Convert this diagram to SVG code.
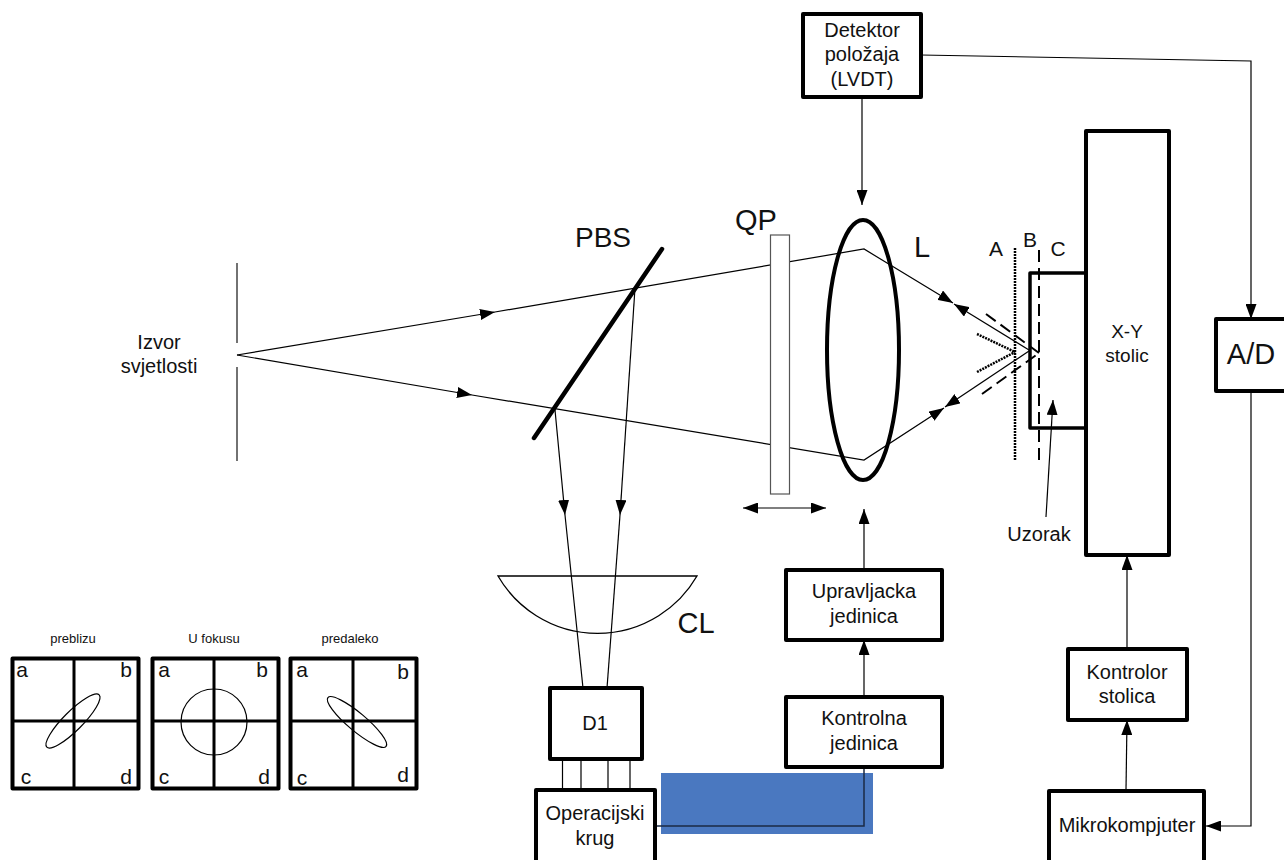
<svg xmlns="http://www.w3.org/2000/svg" width="1284" height="860" viewBox="0 0 1284 860">
<style>
text{font-family:"Liberation Sans",Arial,sans-serif;fill:#111;text-anchor:middle}
.box{fill:#fff;stroke:#000;stroke-width:4;stroke-linejoin:round}
.t18{font-size:20px}
.w{fill:none;stroke:#000;stroke-width:1.2}
.thin{fill:none;stroke:#000;stroke-width:1.3}
.q{font-size:21px}
.big{font-size:29px}
.s{font-size:13px}
.cr{fill:none;stroke:#000;stroke-width:3}
.dash{fill:none;stroke:#000;stroke-width:2;stroke-dasharray:12 6}
.dot{fill:none;stroke:#000;stroke-width:2.500;stroke-dasharray:2 1}
</style>
<defs>
<marker id="a" markerUnits="userSpaceOnUse" viewBox="0 0 15 11" markerWidth="15" markerHeight="11" refX="15" refY="5.500" orient="auto"><path d="M0,0L15,5.500L0,11z" fill="#000"/></marker>
<marker id="b" markerUnits="userSpaceOnUse" viewBox="0 0 15 11" markerWidth="15" markerHeight="11" refX="0" refY="5.500" orient="auto"><path d="M15,0L0,5.500L15,11z" fill="#000"/></marker>
</defs>
<rect id="blue-block" x="661" y="773" width="212" height="61" fill="#4a78c0"/>
<g id="connectors">
<path class="w" d="M237,355L495,312" marker-end="url(#a)"/>
<path class="w" d="M495,312L864,249L953,303" marker-end="url(#a)"/>
<path class="w" d="M1029,350L954,304" marker-end="url(#a)"/>
<path class="w" d="M237,355L472,395" marker-end="url(#a)"/>
<path class="w" d="M472,395L864,460L944,408" marker-end="url(#a)"/>
<path class="w" d="M1029,351L945,407" marker-end="url(#a)"/>
<path class="w" d="M635,288L620,515" marker-end="url(#a)"/>
<path class="w" d="M620,515L607,688"/>
<path class="w" d="M555,410L565,515" marker-end="url(#a)"/>
<path class="w" d="M565,515L583,688"/>
<path class="w" d="M921,55L1251,61L1251,319" marker-end="url(#a)"/>
<path class="w" d="M862,98L862,205" marker-end="url(#a)"/>
<path class="w" d="M864,569L864,509" marker-end="url(#a)"/>
<path class="w" d="M864,696L864,640" marker-end="url(#a)"/>
<path class="w" d="M1127,649L1127,555" marker-end="url(#a)"/>
<path class="w" d="M1126,790L1127,720" marker-end="url(#a)"/>
<path class="w" d="M1251,391L1251,826L1206,826" marker-end="url(#a)"/>
<path class="w" d="M1046,517L1053,400" marker-end="url(#a)"/>
<path class="w" d="M743,508H826" marker-start="url(#b)" marker-end="url(#a)"/>
<path class="w" d="M562.500,759V790M581,759V790M608,759V790M630,759V790"/>
<path d="M655,826H864V767" fill="none" stroke="#1b2a44" stroke-width="1.500"/>
<path class="dash" d="M986,314L1039,353"/>
<path class="dash" d="M982,394L1039,353"/>
<path class="dot" d="M977,334L1015,352"/>
<path class="dot" d="M977,372L1015,352"/>
<path class="dot" d="M1015,248V461"/>
<path class="dash" d="M1039,250V461"/>
</g>
<g id="slit"><path d="M237,263V343M237,367V461" fill="none" stroke="#444" stroke-width="1.500"/></g>
<g id="source-label"><text class="t18" x="159" y="349">Izvor</text><text class="t18" x="159" y="373">svjetlosti</text></g>
<g id="pbs"><path d="M662,249L534,438" stroke="#000" stroke-width="4.500" stroke-linecap="round"/><text class="big" x="603" y="247" style="font-size:28px">PBS</text></g>
<g id="qp"><rect x="770.500" y="235" width="19" height="259" fill="#fff" stroke="#555" stroke-width="1.200"/><text class="big" x="756" y="230">QP</text></g>
<g id="lens"><ellipse cx="863" cy="350" rx="36" ry="130" fill="none" stroke="#000" stroke-width="4"/><text class="big" x="922" y="257">L</text></g>
<g id="cl"><path class="thin" d="M498,576H697A115,115 0 0 1 498,576z"/><text class="big" x="696" y="633">CL</text></g>
<g id="plane-labels"><text class="q" x="996" y="256">A</text><text class="q" x="1030" y="247">B</text><text class="q" x="1058" y="256">C</text></g>
<g id="detektor"><rect class="box" x="803" y="14" width="118" height="83"/><text class="t18" x="862" y="37">Detektor</text><text class="t18" x="862" y="61">položaja</text><text class="t18" x="862" y="86">(LVDT)</text></g>
<g id="upravljacka"><rect class="box" x="786" y="570" width="156" height="70"/><text class="t18" x="864" y="598">Upravljacka</text><text class="t18" x="864" y="623">jedinica</text></g>
<g id="kontrolna"><rect class="box" x="786" y="697" width="156" height="70"/><text class="t18" x="864" y="725">Kontrolna</text><text class="t18" x="864" y="750">jedinica</text></g>
<g id="d1"><rect class="box" x="550" y="688" width="92" height="71"/><text class="t18" x="595" y="730">D1</text></g>
<g id="operacijski"><rect class="box" x="536" y="790" width="119" height="72"/><text class="t18" x="595" y="820">Operacijski</text><text class="t18" x="595" y="845">krug</text></g>
<g id="uzorak"><path d="M1086,273H1030V428H1086" fill="none" stroke="#000" stroke-width="3.500" stroke-linejoin="round"/><text class="t18" x="1039" y="541">Uzorak</text></g>
<g id="xy"><rect class="box" x="1086" y="131" width="83" height="424"/><text x="1127" y="338" style="font-size:19px">X-Y</text><text x="1127" y="362" style="font-size:19px">stolic</text></g>
<g id="kontrolor"><rect class="box" x="1068" y="649" width="119" height="71"/><text class="t18" x="1127" y="679">Kontrolor</text><text class="t18" x="1127" y="703">stolica</text></g>
<g id="mikro"><rect class="box" x="1049" y="791" width="155" height="71"/><text class="t18" x="1127" y="832">Mikrokompjuter</text></g>
<g id="ad"><rect class="box" x="1216" y="319" width="70" height="72"/><text class="big" x="1251" y="364">A/D</text></g>
<g id="q1"><text class="s" x="73" y="643">preblizu</text><rect class="box" x="12.500" y="658.500" width="126" height="130"/><path class="cr" d="M74,658V789M12,721H139"/><ellipse cx="73" cy="721" rx="37" ry="9.500" transform="rotate(-45 73 721)" class="w"/>
<text class="q" x="22" y="677">a</text><text class="q" x="126" y="677">b</text><text class="q" x="26" y="784">c</text><text class="q" x="126" y="784">d</text></g>
<g id="q2"><text class="s" x="214" y="643">U fokusu</text><rect class="box" x="152.500" y="658.500" width="126" height="130"/><path class="cr" d="M214,658V789M152,721H278"/><circle cx="214" cy="722" r="33" class="w"/>
<text class="q" x="164" y="677">a</text><text class="q" x="262" y="677">b</text><text class="q" x="164" y="784">c</text><text class="q" x="264" y="784">d</text></g>
<g id="q3"><text class="s" x="350" y="643">predaleko</text><rect class="box" x="290.500" y="658.500" width="126" height="130"/><path class="cr" d="M353,658V789M290,721H417"/><ellipse cx="357" cy="722" rx="38" ry="9" transform="rotate(40 357 722)" class="w"/>
<text class="q" x="302" y="677">a</text><text class="q" x="403" y="679">b</text><text class="q" x="302" y="785">c</text><text class="q" x="403" y="782">d</text></g>
</svg>
